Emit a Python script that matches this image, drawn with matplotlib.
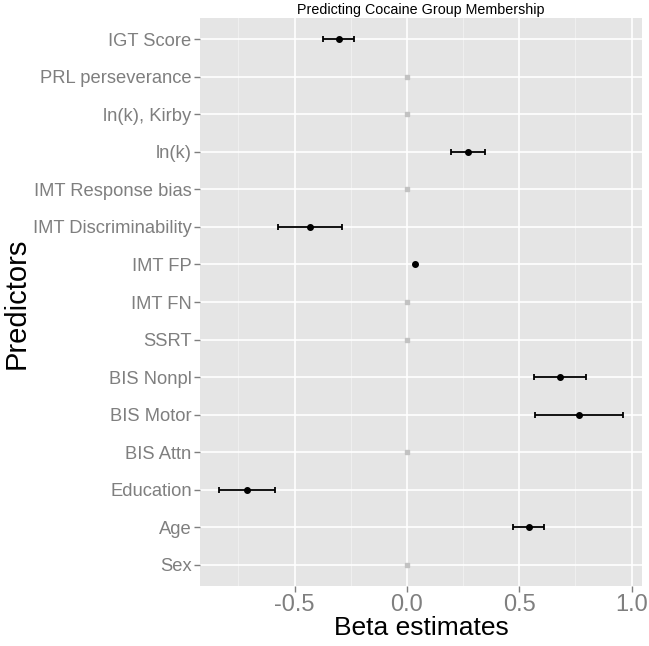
import numpy as np
import matplotlib
matplotlib.use("Agg")
import matplotlib.pyplot as plt
from matplotlib.ticker import MultipleLocator

plt.rcParams['font.family'] = ['Liberation Sans', 'DejaVu Sans']

# predictors from top to bottom
predictors = ['IGT Score', 'PRL perseverance', 'ln(k), Kirby', 'ln(k)',
              'IMT Response bias', 'IMT Discriminability', 'IMT FP', 'IMT FN',
              'SSRT', 'BIS Nonpl', 'BIS Motor', 'BIS Attn', 'Education',
              'Age', 'Sex']
beta = [-0.304, 0.0, 0.0, 0.270, 0.0, -0.432, 0.034, 0.0,
        0.0, 0.681, 0.766, 0.0, -0.712, 0.541, 0.0]
ci_low = [-0.374, 0.0, 0.0, 0.196, 0.0, -0.573, 0.034, 0.0,
          0.0, 0.567, 0.571, 0.0, -0.835, 0.473, 0.0]
ci_high = [-0.234, 0.0, 0.0, 0.346, 0.0, -0.288, 0.034, 0.0,
           0.0, 0.797, 0.961, 0.0, -0.586, 0.611, 0.0]
selected = [True, False, False, True, False, True, True, False,
            False, True, True, False, True, True, False]

fig = plt.figure(figsize=(6.49, 6.46), dpi=100)
ax = fig.add_axes([200 / 649, 60 / 646, 442 / 649, 568 / 646])
ax.set_facecolor('#e5e5e5')

n = len(predictors)
ypos = np.arange(n)[::-1]

for y, b, lo, hi, sel in zip(ypos, beta, ci_low, ci_high, selected):
    if sel:
        if hi > lo:
            ax.errorbar(b, y, xerr=[[b - lo], [hi - b]], fmt='none',
                        ecolor='black', elinewidth=1.3, capsize=2.5,
                        capthick=1.3, zorder=3)
        ax.plot(b, y, 'o', color='black', ms=4.0, zorder=4)
    else:
        ax.plot(b, y, 's', color='#c2c2c2', ms=3.5, zorder=4)

ax.set_xlim(-0.921, 1.046)
ax.set_ylim(-0.57, n - 1 + 0.57)
ax.xaxis.set_major_locator(MultipleLocator(0.5))
ax.xaxis.set_minor_locator(MultipleLocator(0.25))
ax.set_xticks([-0.5, 0.0, 0.5, 1.0])
ax.set_xticklabels(['-0.5', '0.0', '0.5', '1.0'])
ax.set_yticks(ypos)
ax.set_yticklabels(predictors)

ax.grid(which='major', color='white', linewidth=1.2, zorder=0)
ax.grid(which='minor', axis='x', color='#f2f2f2', linewidth=0.6, zorder=0)
ax.set_axisbelow(True)
for s in ax.spines.values():
    s.set_visible(False)

ax.tick_params(axis='both', which='major', color='#7f7f7f', length=4,
               width=1, labelcolor='#7f7f7f')
ax.tick_params(axis='x', which='minor', length=0)
ax.tick_params(axis='x', labelsize=17, pad=2)
ax.tick_params(axis='y', labelsize=13.2, pad=2)

ax.set_xlabel('Beta estimates', fontsize=19, labelpad=0)
ax.set_ylabel('Predictors', fontsize=21)
ax.yaxis.set_label_coords(-0.383, 0.497)
ax.set_title('Predicting Cocaine Group Membership', fontsize=10.3, pad=3)

fig.savefig('out.png', dpi=100)
